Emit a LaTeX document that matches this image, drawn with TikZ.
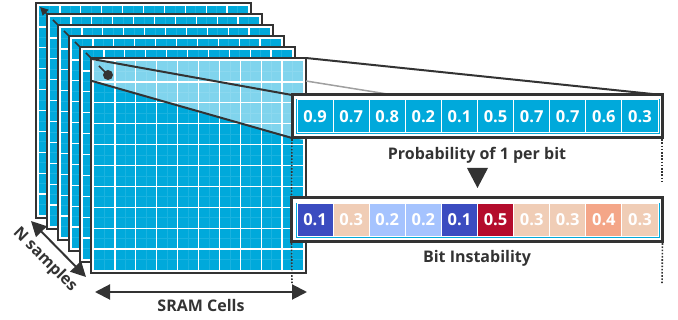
\documentclass[tikz,border=0pt]{standalone}
\usepackage{fontspec}
\setmainfont{Open Sans}
\usetikzlibrary{arrows.meta}
\definecolor{dk}{HTML}{333333}
\definecolor{cy}{HTML}{00A9DB}
\definecolor{cysub}{HTML}{1AB2DF}
\definecolor{cdb}{HTML}{3B4CC0}
\definecolor{cpe}{HTML}{F0CDB6}
\definecolor{clb}{HTML}{A5C3FE}
\definecolor{ccr}{HTML}{B40C2C}
\definecolor{csa}{HTML}{F4A688}
\definecolor{gr}{HTML}{A0A0A0}
\tikzset{
  framebox/.style={draw=dk, line width=2, fill=white},
  gridline/.style={white, line width=1.3},
  subline/.style={cysub, line width=0.7},
  barbox/.style={draw=dk, line width=3, fill=white, inner sep=0, outer sep=0},
  cellbox/.style={draw=white, line width=1, minimum width=36.1, minimum height=33, inner sep=0, outer sep=0, text=white, font=\bfseries\fontsize{16.5}{16.5}\selectfont},
  lbl/.style={text=dk, inner sep=0, font=\bfseries\fontsize{16}{16}\selectfont},
  dotline/.style={draw=dk, line width=1.6, dash pattern=on 1.6pt off 1.6pt},
  dblarrow/.style={draw=dk, line width=2, {Triangle[length=15,width=15]}-{Triangle[length=15,width=15]}},
  ticks/.style={draw=dk, line width=1.6},
}
\begin{document}
\begin{tikzpicture}[x=1pt,y=-1pt]
\useasboundingbox (0,0) rectangle (678,320);

% stacked frames
\foreach \k in {0,...,5} {
  \pgfmathsetmacro\cx{36+11*\k}
  \pgfmathsetmacro\cy{3+11*\k}
  \draw[framebox] (\cx,\cy) rectangle ++(215,215);
  \fill[cy] (\cx+3,\cy+3) rectangle ++(209,209);
  \foreach \i in {0,...,9} {
    \draw[subline] (\cx+13.45+20.9*\i,\cy+3) -- ++(0,209);
    \draw[subline] (\cx+3,\cy+13.45+20.9*\i) -- ++(209,0);
  }
  \foreach \i in {1,...,9} {
    \draw[gridline] (\cx+3+20.9*\i,\cy+3) -- ++(0,209);
    \draw[gridline] (\cx+3,\cy+3+20.9*\i) -- ++(209,0);
  }
  \ifnum\k=0
    \draw[ticks, {Triangle[length=8,width=8]}-] (\cx+4,\cy+4) -- (\cx+14,\cy+14);
  \else\ifnum\k<5
    \draw[ticks] (\cx+6,\cy+6) -- (\cx+14,\cy+14);
  \fi\fi
}

% highlight of the first row region on the front frame
\begin{scope}
  \clip (94,61) rectangle (303,270);
  \fill[white, opacity=0.5] (92,58) -- (306,58) -- (306,141) -- (92,81) -- cycle;
\end{scope}

% pointer dot on front frame
\coordinate (dtail) at (99,66);
\node[circle, fill=dk, inner sep=0, minimum size=10] (dot) at (108,75) {};
\draw[ticks] (dtail) -- (dot.center);

% frustum corners
\coordinate (sTL) at (92,59);
\coordinate (sBL) at (92,81);
\coordinate (sTR) at (306,58);
\coordinate (sBR) at (306,81);

% probability bar
\node[barbox, minimum width=370, minimum height=43] (pbar) at (477,116.5) {};
\draw[gr, line width=1.5] (sBR) -- (pbar.south east);
\node[barbox, minimum width=370, minimum height=43] (pbar) at (477,116.5) {};
\draw[dk, line width=2] (sTL) -- (pbar.north west);
\draw[dk, line width=2] (sBL) -- (pbar.south west);
\draw[dk, line width=2] (sTR) -- (pbar.north east);
\draw[cy, line width=0.8] (296,99.5) rectangle (659,133.5);
\foreach \v [count=\i] in {0.9,0.7,0.8,0.2,0.1,0.5,0.7,0.7,0.6,0.3}
  \node[cellbox, fill=cy] (t\i) at (297+36.1*\i-18.05,116.5) {\v};

\node[lbl] (plabel) at (477,155) {Probability of 1 per bit};
\fill[dk] (467,168) -- (488,168) -- (477.5,188) -- cycle;

% instability bar
\node[barbox, minimum width=371, minimum height=44] (bbar) at (477,220) {};
\draw[cy, line width=0.8] (296,203) rectangle (659,237);
\foreach \v/\c [count=\i] in {0.1/cdb,0.3/cpe,0.2/clb,0.2/clb,0.1/cdb,0.5/ccr,0.3/cpe,0.3/cpe,0.4/csa,0.3/cpe}
  \node[cellbox, fill=\c] (b\i) at (297+36.1*\i-18.05,220) {\v};

\node[lbl] (blabel) at (477,258) {Bit Instability};

% dotted guides
\coordinate (lend) at (292,284);
\coordinate (rmid) at (662,181);
\coordinate (rend) at (662,284);
\draw[dotline] ([yshift=2pt]pbar.south west) -- ([yshift=-2pt]bbar.north west);
\draw[dotline] ([yshift=2pt]bbar.south west) -- (lend);
\draw[dotline] ([yshift=2pt]pbar.south east) -- (rmid);
\draw[dotline] ([yshift=2pt]bbar.south east) -- (rend);

% arrows
\coordinate (sramL) at (95,292);
\coordinate (sramR) at (307,292);
\draw[dblarrow] (sramL) -- (sramR);
\node[lbl] (sram) at (201,306) {SRAM Cells};

\coordinate (nA) at (31,221);
\coordinate (nB) at (86,277);
\draw[dblarrow] (nA) -- (nB);
\node[lbl, rotate=-45] (nsamp) at (45,260) {N samples};
\end{tikzpicture}
\end{document}
